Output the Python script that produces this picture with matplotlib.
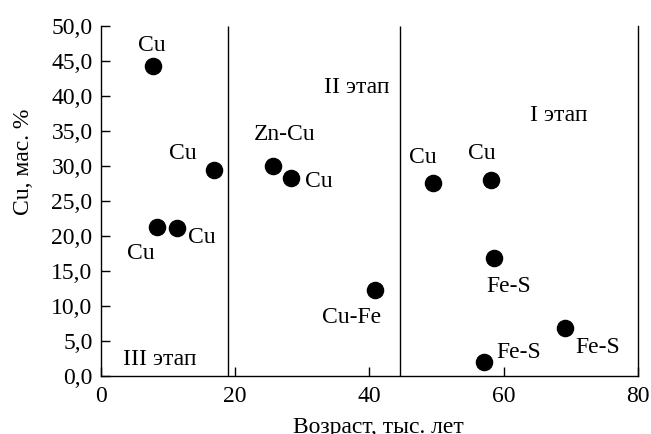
import matplotlib.pyplot as plt

plt.rcParams['font.family'] = 'serif'
plt.rcParams['font.serif'] = ['Liberation Serif', 'DejaVu Serif']

# точки: возраст (тыс. лет), Cu (мас. %)
age = [7.7, 16.8, 8.4, 11.4, 25.6, 28.3, 40.8, 49.5, 58.1, 58.5, 57.1, 69.2]
cu = [44.3, 29.4, 21.3, 21.1, 29.9, 28.2, 12.3, 27.5, 27.9, 16.8, 2.0, 6.8]

# подписи точек: текст, x, y, выравнивание
labels = ["Cu", "Cu", "Cu", "Cu", "Zn-Cu", "Cu", "Cu-Fe", "Cu", "Cu", "Fe-S", "Fe-S", "Fe-S"]
lab_x = [7.6, 12.2, 6.0, 13.0, 27.4, 30.4, 41.7, 48.0, 56.8, 60.8, 58.9, 70.6]
lab_y = [47.2, 31.8, 17.5, 19.8, 34.4, 27.8, 8.4, 31.2, 31.7, 12.8, 3.4, 4.1]
lab_ha = ["center", "center", "center", "left", "center", "left", "right",
          "center", "center", "center", "left", "left"]

stages = ["III этап", "II этап", "I этап"]
stage_x = [8.8, 38.1, 68.2]
stage_y = [2.3, 41.1, 37.2]
bounds = [18.9, 44.6]

yticks = [0, 5, 10, 15, 20, 25, 30, 35, 40, 45, 50]
xticks = [0, 20, 40, 60, 80]

fs = 17

fig = plt.figure(figsize=(6.51, 4.34), dpi=100)
ax = fig.add_axes([0.155, 0.134, 0.825, 0.807])

ax.scatter(age, cu, s=135, color="black", zorder=3)
for t, x, y, ha in zip(labels, lab_x, lab_y, lab_ha):
    ax.text(x, y, t, ha=ha, va="center", fontsize=fs)
for t, x, y in zip(stages, stage_x, stage_y):
    ax.text(x, y, t, ha="center", va="center", fontsize=fs)
ax.vlines(bounds, 0, 50, color="black", linewidth=1)

ax.set_xlim(0, 80)
ax.set_ylim(0, 50)
ax.set_xticks(xticks)
ax.set_yticks(yticks)
ax.set_yticklabels([f"{v:.1f}".replace(".", ",") for v in yticks])
ax.tick_params(direction="in", length=6.5, labelsize=fs, width=1)
ax.tick_params(axis="x", pad=7.5)
ax.tick_params(axis="y", pad=6)
ax.spines["top"].set_visible(False)
for s in ["left", "right", "bottom"]:
    ax.spines[s].set_linewidth(1)

ax.set_xlabel("Возраст, тыс. лет", fontsize=fs)
ax.set_ylabel("Cu, мас. %", fontsize=fs)
ax.xaxis.set_label_coords(0.516, -0.117)
ax.yaxis.set_label_coords(-0.125, 0.61)

fig.savefig("out.png", dpi=100)
